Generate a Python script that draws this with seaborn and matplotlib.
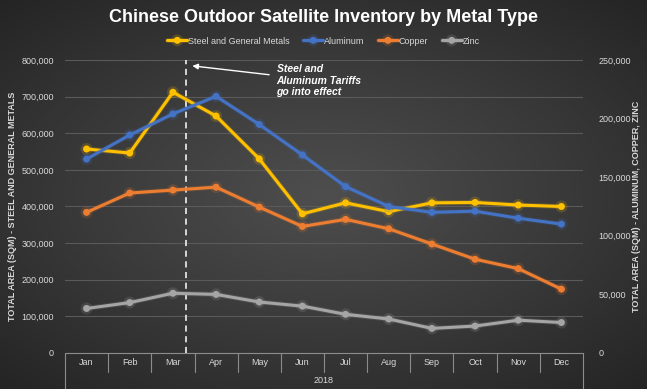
import numpy as np
import pandas as pd
import matplotlib
matplotlib.use("Agg")
import matplotlib.pyplot as plt
import matplotlib.patheffects as pe
from matplotlib.ticker import FuncFormatter
import seaborn as sns

# donnees
months = ["Jan", "Feb", "Mar", "Apr", "May", "Jun", "Jul", "Aug", "Sep", "Oct", "Nov", "Dec"]
steel = [557000, 546000, 712000, 647000, 530000, 380000, 410000, 386000, 410000, 411000, 404000, 400000]
aluminum = [165500, 186000, 204000, 219000, 195000, 169000, 142000, 125000, 120000, 121000, 115000, 110000]
copper = [120000, 136500, 139000, 141500, 124500, 108000, 114000, 106000, 93000, 80000, 72000, 54500]
zinc = [38000, 43000, 51000, 50000, 43500, 40000, 33000, 29000, 21000, 23000, 28000, 26000]
year = "2018"

df = pd.DataFrame({"idx": range(len(months)), "month": months, "Steel and General Metals": steel,
                   "Aluminum": aluminum, "Copper": copper, "Zinc": zinc})

colors = {"Steel and General Metals": "#FFC000", "Aluminum": "#4472C4", "Copper": "#ED7D31", "Zinc": "#A5A5A5"}
txt = "#D9D9D9"

sns.set_style("dark")
plt.rcParams["font.family"] = ["Liberation Sans", "DejaVu Sans"]

fig = plt.figure(figsize=(6.47, 3.89), dpi=100)

# fond en degrade radial
bg = fig.add_axes([0, 0, 1, 1], zorder=-10)
yy, xx = np.mgrid[-1:1:200j, -1:1:330j]
r = np.sqrt((xx * 0.85) ** 2 + (yy * 0.9) ** 2)
bg.imshow(r, cmap=sns.blend_palette(["#4e4e4e", "#3a3a3a", "#242424"], as_cmap=True),
          aspect="auto", extent=[0, 1, 0, 1], vmin=0, vmax=1.25)
bg.axis("off")

ax = fig.add_axes([65 / 647, 36 / 389, 518 / 647, 293 / 389])
ax2 = ax.twinx()
for a in (ax, ax2):
    a.set_facecolor("none")
    for s in a.spines.values():
        s.set_visible(False)

glow = lambda c: [pe.Stroke(linewidth=3.6, foreground=c, alpha=0.18), pe.Normal()]

sns.lineplot(data=df, x="idx", y="Steel and General Metals", ax=ax, color=colors["Steel and General Metals"],
             marker="o", markersize=5, linewidth=2.2, markeredgewidth=0, label="Steel and General Metals",
             legend=False, zorder=5)
for name in ["Aluminum", "Copper", "Zinc"]:
    sns.lineplot(data=df, x="idx", y=name, ax=ax2, color=colors[name], marker="o", markersize=5,
                 linewidth=2.2, markeredgewidth=0, label=name, legend=False)
for line in ax.lines + ax2.lines:
    line.set_path_effects(glow(line.get_color()))

ax.set_xlim(-0.5, len(months) - 0.5)
ax.set_ylim(0, 800000)
ax2.set_ylim(0, 250000)
ax.set_yticks(np.arange(0, 800001, 100000))
ax2.set_yticks(np.arange(0, 250001, 50000))
fmt = FuncFormatter(lambda v, p: f"{int(v):,}")
ax.yaxis.set_major_formatter(fmt)
ax2.yaxis.set_major_formatter(fmt)
ax.grid(axis="y", color="#5a5a5a", linewidth=0.8)
ax.grid(axis="x", visible=False)
ax2.grid(False)
ax.tick_params(axis="y", colors=txt, labelsize=6.5, length=0, pad=8)
ax2.tick_params(axis="y", colors=txt, labelsize=6.5, length=0, pad=11)
ax.set_xticks([])
ax.set_xlabel("")
ax.set_ylabel("TOTAL AREA (SQM) - STEEL AND GENERAL METALS", color=txt, fontsize=6.5, fontweight="bold")
ax2.set_ylabel("TOTAL AREA (SQM) - ALUMINUM, COPPER, ZINC", color=txt, fontsize=6.5, fontweight="bold",
               rotation=90)
ax.yaxis.set_label_coords(-0.093, 0.5)
ax2.yaxis.set_label_coords(1.095, 0.5)

# axe des categories a deux niveaux
ax.axhline(0, color="#8c8c8c", linewidth=0.8, clip_on=False)
tr = ax.get_xaxis_transform()
for i in range(len(months) + 1):
    x = i - 0.5
    low = -0.125 if i in (0, len(months)) else -0.065
    ax.plot([x, x], [0, low], transform=tr, color="#8c8c8c", linewidth=0.8, clip_on=False)
for i, m in enumerate(months):
    ax.text(i, -0.031, m, transform=tr, ha="center", va="center", color=txt, fontsize=6.5)
ax.text((len(months) - 1) / 2, -0.093, year, transform=tr, ha="center", va="center", color=txt, fontsize=6.5)

# ligne des tarifs
ax.axvline(2.3, color="white", linestyle=(0, (4, 3)), linewidth=1.1, zorder=3)
ax.annotate("Steel and\nAluminum Tariffs\ngo into effect", xy=(2.45, 0.98), xycoords=tr,
            xytext=(4.4, 0.93), textcoords=tr, color="white", fontsize=7.5, fontweight="bold",
            fontstyle="italic", va="center", ha="left", linespacing=1.15,
            arrowprops=dict(arrowstyle="-|>", color="white", lw=1, mutation_scale=8, shrinkA=3, shrinkB=0))

fig.suptitle("Chinese Outdoor Satellite Inventory by Metal Type", y=1 - 17 / 389, va="center",
             color="white", fontsize=13, fontweight="bold")

handles = ax.lines[:1] + ax2.lines[:3]
labels = ["Steel and General Metals", "Aluminum", "Copper", "Zinc"]
fig.legend(handles, labels, loc="center", bbox_to_anchor=(0.5, 1 - 41 / 389), ncol=4, frameon=False,
           fontsize=6.5, labelcolor=txt, handlelength=2.2, handletextpad=0.1, columnspacing=1.5)

fig.savefig("out.png", dpi=100)
